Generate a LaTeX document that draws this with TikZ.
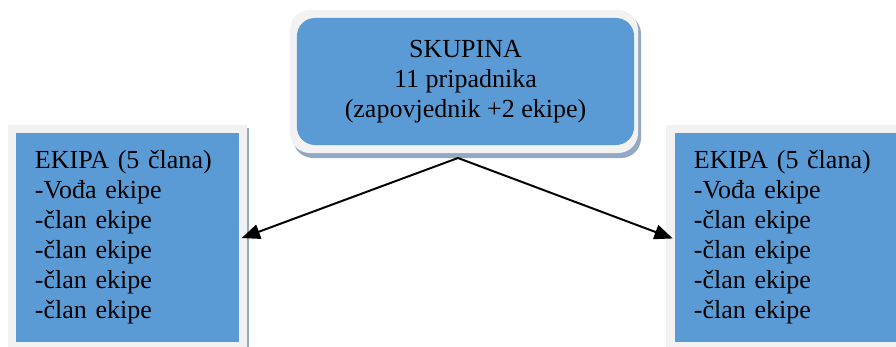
\documentclass[tikz,border=0pt]{standalone}
\usepackage{fontspec}
\setmainfont{Liberation Serif}
\usepackage{xcolor}
\usetikzlibrary{arrows.meta}

\definecolor{boxblue}{HTML}{5B9BD5}
\definecolor{framegray}{HTML}{F2F2F2}
\definecolor{shadowblue}{HTML}{93A8C2}

\begin{document}
\begin{tikzpicture}[
    x=0.025cm, y=-0.025cm,
    frame/.style={rectangle, fill=framegray, inner sep=0pt},
    shade/.style={rectangle, fill=shadowblue, inner sep=0pt},
    unit/.style={rectangle, fill=boxblue, inner sep=0pt, font=\fontsize{18.5}{21.3}\selectfont},
    team/.style={unit, text width=4.625cm, inner xsep=0.475cm, align=left, minimum height=5.225cm},
    arrow/.style={-{Triangle[length=13pt,width=10.5pt]}, line width=1.4pt}
]
\useasboundingbox (0,0) rectangle (896,347);

% top box
\node[shade, rounded corners=0.5cm, minimum width=8.7cm, minimum height=3.6cm] (topshade) at (467,86) {};
\node[frame, rounded corners=0.5cm, minimum width=8.7cm, minimum height=3.575cm] (topframe) at (464,81.5) {};
\node[unit, rounded corners=0.45cm, minimum width=8.425cm, minimum height=3.175cm, align=center] (skupina) at (465.5,81.5)
    {SKUPINA\\11 pripadnika\\(zapovjednik +2 ekipe)};

% left team
\node[shade, minimum width=5.975cm, minimum height=5.475cm] (leftshade) at (129.5,237.5) {};
\node[frame, minimum width=5.975cm, minimum height=5.55cm] (leftframe) at (127.5,236) {};
\node[team] (lefteam) at (127.5,237.5)
    {EKIPA (5 člana)\\-Vođa ekipe\\-član ekipe\\-član ekipe\\-član ekipe\\-član ekipe};

% right team
\node[shade, minimum width=5.975cm, minimum height=5.475cm] (rightshade) at (788,237.5) {};
\node[frame, minimum width=5.975cm, minimum height=5.55cm] (rightframe) at (786,236) {};
\node[team] (rightteam) at (786.5,237.5)
    {EKIPA (5 člana)\\-Vođa ekipe\\-član ekipe\\-član ekipe\\-član ekipe\\-član ekipe};

\coordinate (apex) at (458,158);
\draw[arrow, shorten >=-0.15cm] (apex) -- (leftframe.east);
\draw[arrow, shorten >=-0.175cm] (apex) -- (rightframe.west);

\end{tikzpicture}
\end{document}
